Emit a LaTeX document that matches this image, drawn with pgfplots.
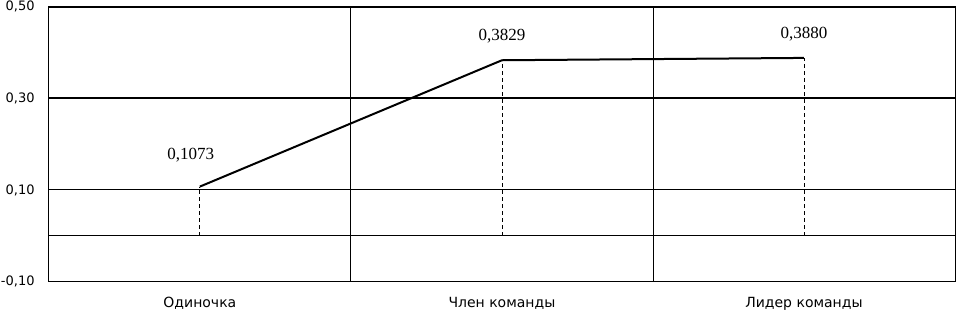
\documentclass[border=0pt]{standalone}
\usepackage{fontspec}
\setmainfont{Liberation Serif}
\newfontfamily\sansf{DejaVu Sans}
\usepackage{pgfplots}
\pgfplotsset{compat=1.18}
\begin{document}
\begin{tikzpicture}
\begin{axis}[
  scale only axis, width=906pt, height=275pt,
  xmin=-0.5, xmax=2.5, ymin=-0.1, ymax=0.5,
  xtick={0,1,2}, xticklabels={Одиночка, Член команды, Лидер команды},
  x tick label style={font=\fontsize{14}{16}\sansf, inner xsep=1pt, inner ysep=4pt, yshift=-11pt},
  ytick={-0.1,0,0.1,0.3,0.5}, yticklabels={{-0,10},{},{0,10},{0,30},{0,50}},
  y tick label style={font=\fontsize{13}{14}\sansf, inner sep=1pt, xshift=-13pt},
  major tick length=0pt,
  ymajorgrids, major grid style={black, line width=0.9pt},
  extra x ticks={0.5,1.5}, extra x tick labels={},
  extra x tick style={grid=major, major grid style={black, line width=0.9pt}},
  extra y ticks={0.3,0.5}, extra y tick labels={},
  extra y tick style={grid=major, major grid style={black, line width=2pt}},
  axis line style={black, line width=0.9pt},
  clip=false,
]
\addplot[ycomb, black, line width=0.8pt, dash pattern=on 4pt off 3pt, mark=none, forget plot]
  coordinates {(0,0.1073) (1,0.3829) (2,0.3880)};
\addplot[black, line width=2pt, mark=none]
  coordinates {(0,0.1073) (1,0.3829) (2,0.3880)};
\addplot[only marks, mark=none, point meta=y,
  nodes near coords={\pgfmathprintnumber[fixed, fixed zerofill, precision=4, use comma, assume math mode=true]{\pgfplotspointmeta}},
  nodes near coords style={font=\fontsize{17}{19}\selectfont, anchor=south, inner sep=0pt, xshift=-9pt, yshift=24pt, text=black}]
  coordinates {(0,0.1073)};
\addplot[only marks, mark=none, point meta=y,
  nodes near coords={\pgfmathprintnumber[fixed, fixed zerofill, precision=4, use comma, assume math mode=true]{\pgfplotspointmeta}},
  nodes near coords style={font=\fontsize{17}{19}\selectfont, anchor=south, inner sep=0pt, yshift=17pt, text=black}]
  coordinates {(1,0.3829) (2,0.3880)};
\end{axis}
\end{tikzpicture}
\end{document}
